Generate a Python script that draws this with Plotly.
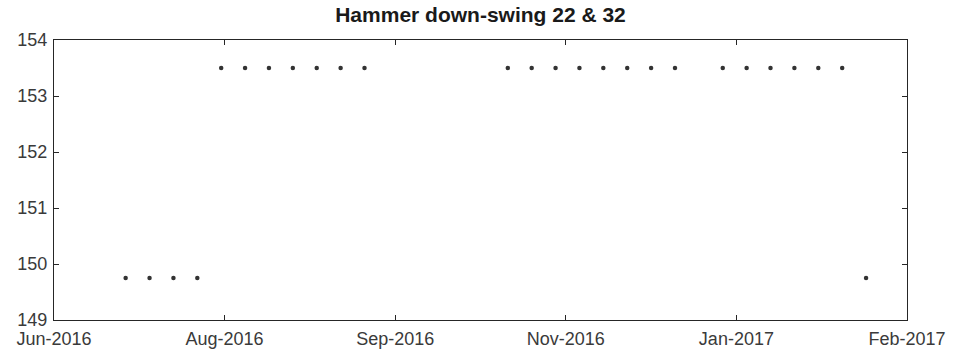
import plotly.graph_objects as go

# Weekly readings
dates = [
    "2016-07-10", "2016-07-17", "2016-07-24", "2016-07-31",
    "2016-08-07", "2016-08-14", "2016-08-21", "2016-08-28",
    "2016-09-04", "2016-09-11", "2016-09-18",
    "2016-10-30", "2016-11-06", "2016-11-13", "2016-11-20",
    "2016-11-27", "2016-12-04", "2016-12-11", "2016-12-18",
    "2017-01-01", "2017-01-08", "2017-01-15", "2017-01-22",
    "2017-01-29", "2017-02-05",
    "2017-02-12",
]
values = [
    149.75, 149.75, 149.75, 149.75,
    153.5, 153.5, 153.5, 153.5, 153.5, 153.5, 153.5,
    153.5, 153.5, 153.5, 153.5, 153.5, 153.5, 153.5, 153.5,
    153.5, 153.5, 153.5, 153.5, 153.5, 153.5,
    149.75,
]

# Tick positions every 50 days, labelled by month
tick_dates = ["2016-06-19", "2016-08-08", "2016-09-27",
              "2016-11-16", "2017-01-05", "2017-02-24"]
tick_labels = ["Jun-2016", "Aug-2016", "Sep-2016",
               "Nov-2016", "Jan-2017", "Feb-2017"]
y_ticks = [149, 150, 151, 152, 153, 154]

ink = "#262626"
label_ink = "#3a3a3a"
font_family = "Liberation Sans, Arial, sans-serif"

fig = go.Figure(
    go.Scatter(
        x=dates, y=values, mode="markers",
        marker=dict(size=4.5, color="#333333"),
        hoverinfo="x+y",
    )
)

fig.update_layout(
    width=953, height=354,
    margin=dict(l=54, r=46, t=40, b=34),
    paper_bgcolor="white", plot_bgcolor="white",
    showlegend=False,
    title=dict(
        text="<b>Hammer down-swing 22 & 32</b>",
        x=0.5, xref="paper", xanchor="center",
        y=1, yref="container", yanchor="top", pad=dict(t=7),
        font=dict(family=font_family, size=21, color="#1a1a1a"),
    ),
    font=dict(family=font_family, size=18, color=label_ink),
)

fig.update_xaxes(
    type="date",
    range=[tick_dates[0], tick_dates[-1]],
    tickmode="array", tickvals=tick_dates, ticktext=tick_labels,
    ticks="inside", ticklen=5, tickcolor=ink, tickwidth=1,
    showline=True, linecolor=ink, linewidth=1, mirror="ticks",
    showgrid=False, zeroline=False, automargin=False,
    tickfont=dict(size=18, color=label_ink),
    ticklabelstandoff=2,
)
fig.update_yaxes(
    range=[149, 154],
    tickmode="array", tickvals=y_ticks,
    ticks="inside", ticklen=5, tickcolor=ink, tickwidth=1,
    showline=True, linecolor=ink, linewidth=1, mirror="ticks",
    showgrid=False, zeroline=False, automargin=False,
    tickfont=dict(size=18, color=label_ink),
    ticklabelstandoff=2,
)

fig.write_html("out.html")
